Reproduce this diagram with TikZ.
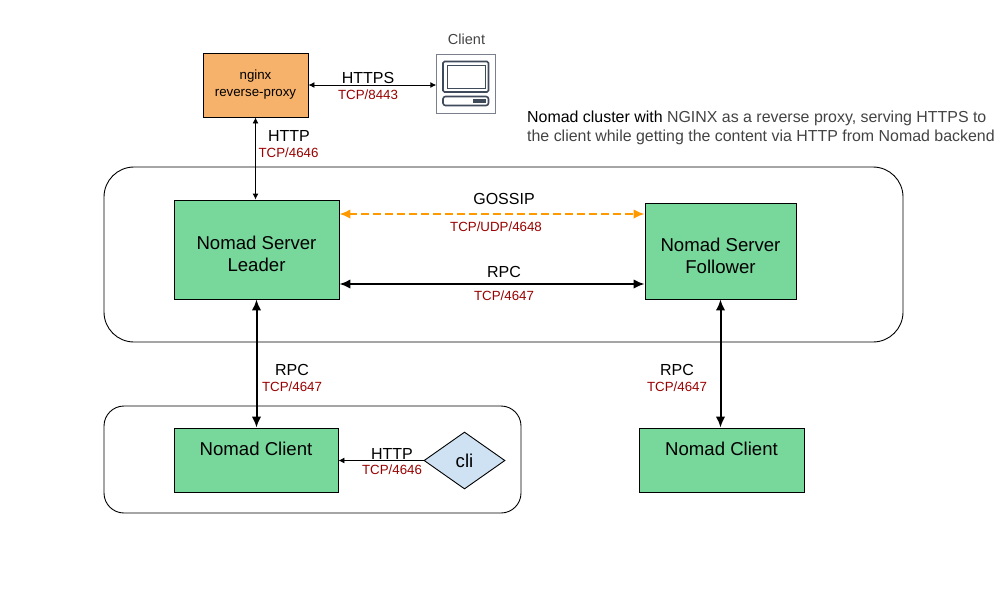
\documentclass[tikz,border=0pt]{standalone}
\usepackage{fontspec}
\setmainfont{Liberation Sans}
\usetikzlibrary{arrows.meta,shapes.geometric,positioning,calc}
\definecolor{boxgreen}{HTML}{78D79B}
\definecolor{boxorange}{HTML}{F6B26B}
\definecolor{boxblue}{HTML}{CFE2F3}
\definecolor{portred}{HTML}{990000}
\definecolor{gossipline}{HTML}{FF9900}
\definecolor{iconline}{HTML}{3F4A5A}
\definecolor{noteline}{HTML}{434343}
\tikzset{% looks used by the picture
	region/.style={draw,rounded corners=#1,line width=.9pt},
	nomadbox/.style={draw,fill=boxgreen,align=center,inner sep=0pt,line width=.9pt,font=\fontsize{18.6}{22}\selectfont},
	protolabel/.style={font=\fontsize{16}{19}\selectfont,inner sep=0pt},
	portlabel/.style={font=\fontsize{13.3}{16}\selectfont,text=portred,inner sep=0pt},
	link/.style={<->,>={Latex[length=6pt,width=6pt]},line width=.9pt},
	rpclink/.style={<->,>={Latex[length=11pt,width=9.5pt]},line width=2pt}
}
\begin{document}
\begin{tikzpicture}[x=1pt,y=-1pt]
\useasboundingbox (0,0) rectangle (1008,606);
% rounded regions
\draw[region=30pt] (104,167) rectangle (903,342);
\draw[region=20pt] (104,406) rectangle (521,513);
% boxes
\node (nginx) [draw,fill=boxorange,align=center,inner sep=0pt,line width=.9pt,minimum width=105pt,minimum height=64pt,
font=\fontsize{13.3}{17}\selectfont] at (255.5,85) {nginx\\reverse-proxy};
\node (leader) [nomadbox,minimum width=165pt,minimum height=99pt] at (256.5,249.5) {{}\\[1pt]Nomad Server\\Leader};
\node (follower) [nomadbox,minimum width=151pt,minimum height=96pt] at (720.5,251) {{}\\[1pt]Nomad Server\\Follower};
\node (clientA) [nomadbox,minimum width=164pt,minimum height=64pt] at (256,460) {Nomad Client\\{}};
\node (clientB) [nomadbox,minimum width=165pt,minimum height=64pt] at (721.5,460) {Nomad Client\\{}};
\node (cli) [diamond,aspect=1.42,draw,fill=boxblue,inner sep=0pt,line width=.9pt,minimum width=81pt,minimum height=57pt,
font=\fontsize{18.6}{22}\selectfont] at (464.5,460.5) {cli};
% client icon
\node (client) [draw=iconline!70,line width=.8pt,inner sep=0pt,minimum width=59pt,minimum height=59pt] at (466.2,83.8) {};
\draw[iconline,line width=1.6pt,rounded corners=1.5pt] (443,61.5) rectangle (488.5,92);
\draw[iconline,line width=.9pt] (447,65) rectangle (485,88);
\draw[iconline,line width=1.6pt,rounded corners=2.5pt] (443,96.5) rectangle (488.5,105.5);
\fill[iconline] (473,99) rectangle (486,102.7);
\node (clientname) [font=\fontsize{14.5}{17}\selectfont,text=noteline,inner sep=0pt] at (466.5,39.5) {Client};
% connectors
\draw[link] (nginx.east) -- (nginx.east -| client.west);
\draw[link] (nginx.south) -- (nginx.south |- leader.north);
\draw[gossipline,<->,>={Latex[length=11pt,width=9.5pt]},line width=2pt,dash pattern=on 7.5pt off 4.5pt] ([yshift=35.5pt]leader.east) -- ([yshift=35.5pt]leader.east -| follower.west);
\draw[rpclink] ([yshift=-34.5pt]leader.east) -- ([yshift=-34.5pt]leader.east -| follower.west);
\draw[rpclink] (leader.south) -- (leader.south |- clientA.north);
\draw[rpclink] (follower.south) -- (follower.south |- clientB.north);
\draw[->,>={Latex[length=6pt,width=6pt]},line width=.9pt] (cli.west) -- (cli.west -| clientA.east);
% labels
\node (httpsname) [protolabel] at (368,78) {HTTPS};
\node (httpsport) [portlabel] at (368,95) {TCP/8443};
\node (httpname) [protolabel] at (289,136) {HTTP};
\node (httpport) [portlabel] at (288.5,153) {TCP/4646};
\node (gossipname) [protolabel] at (504,198.5) {GOSSIP};
\node (gossipport) [portlabel] at (496,227) {TCP/UDP/4648};
\node (rpcname) [protolabel] at (504,271.5) {RPC};
\node (rpcport) [portlabel] at (504,296) {TCP/4647};
\node (rpcnameA) [protolabel] at (292,369.5) {RPC};
\node (rpcportA) [portlabel] at (292,387) {TCP/4647};
\node (rpcnameB) [protolabel] at (677,369.5) {RPC};
\node (rpcportB) [portlabel] at (677,387) {TCP/4647};
\node (cliname) [protolabel] at (392,453.5) {HTTP};
\node (cliport) [portlabel] at (392,470) {TCP/4646};
\node (note) [anchor=west,align=left,inner sep=0pt,text=noteline,font=\fontsize{15.93}{19}\selectfont] at (527,128)
{{\color{black}Nomad cluster with} NGINX as a reverse proxy, serving HTTPS to\\the client while getting the content via HTTP from Nomad backend};
\end{tikzpicture}
\end{document}
